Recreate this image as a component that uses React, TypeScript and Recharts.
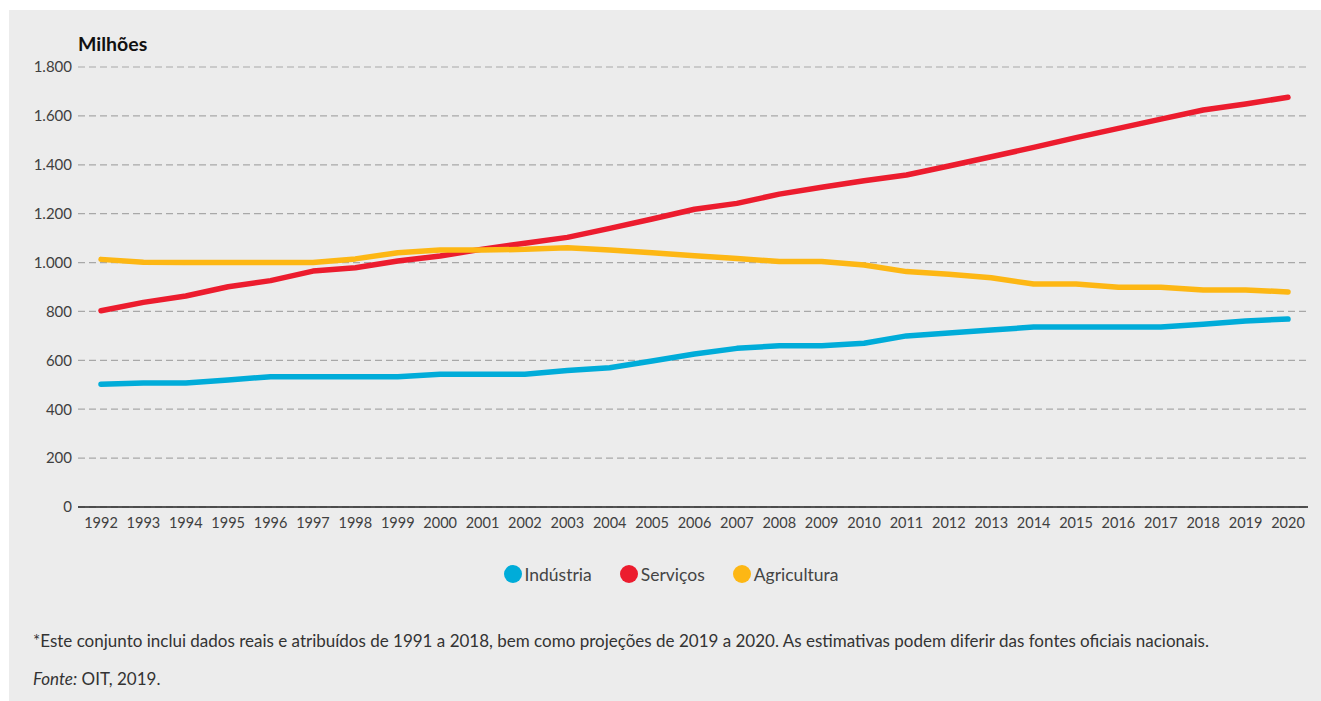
import React from 'react';
import { LineChart, Line, XAxis, YAxis, CartesianGrid, Legend } from 'recharts';

const years = ['1992','1993','1994','1995','1996','1997','1998','1999','2000','2001','2002','2003','2004','2005','2006','2007','2008','2009','2010','2011','2012','2013','2014','2015','2016','2017','2018','2019','2020'];
const industria = [502, 507, 507, 520, 533, 533, 533, 533, 543, 543, 543, 558, 570, 597, 626, 649, 660, 660, 670, 700, 712, 724, 736, 736, 736, 736, 748, 761, 769];
const servicos = [803, 837, 863, 901, 926, 965, 979, 1006, 1027, 1055, 1079, 1103, 1140, 1178, 1218, 1242, 1280, 1308, 1335, 1358, 1395, 1433, 1471, 1511, 1549, 1587, 1624, 1649, 1676];
const agricultura = [1013, 1001, 1000, 1000, 1000, 1000, 1015, 1040, 1051, 1051, 1054, 1061, 1051, 1040, 1028, 1017, 1004, 1004, 990, 963, 952, 938, 912, 912, 899, 899, 888, 888, 880];
const yTicks = [0, 200, 400, 600, 800, 1000, 1200, 1400, 1600, 1800];

const seriesNames = ['Indústria', 'Serviços', 'Agricultura'];
const seriesColors = ['#00acd9', '#ec1c2e', '#fdb714'];

const data = years.map((y, i) => ({
  year: y,
  industria: industria[i],
  servicos: servicos[i],
  agricultura: agricultura[i],
}));

const fmt = (v: number) => v.toLocaleString('de-DE');

const FONT = 'Lato, "Open Sans", sans-serif';

const LegendContent = () => (
  <div style={{ display: 'flex', justifyContent: 'center', alignItems: 'center', height: 24, paddingLeft: 25, fontFamily: FONT }}>
    {seriesNames.map((n, i) => (
      <div key={n} style={{ display: 'flex', alignItems: 'center', marginRight: i < 2 ? 28 : 0 }}>
        <span style={{ display: 'inline-block', width: 18, height: 18, borderRadius: 9, background: seriesColors[i], marginRight: 3 }} />
        <span style={{ fontSize: 17.5, color: '#444' }}>{n}</span>
      </div>
    ))}
  </div>
);

export default function App() {
  return (
    <div style={{ position: 'absolute', left: 9, top: 10, width: 1312, height: 691, background: '#ececec', fontFamily: FONT }}>
      <div style={{ position: 'absolute', left: 69, top: 23, fontSize: 19.5, fontWeight: 700, color: '#111', lineHeight: '22px' }}>Milhões</div>
      <LineChart width={1312} height={586} data={data} margin={{ top: 57, right: 13, bottom: 10, left: 0 }}>
        <CartesianGrid vertical={false} stroke="#a8a8a8" strokeDasharray="7 4" strokeWidth={1.2} />
        <XAxis
          dataKey="year"
          interval={0}
          height={55}
          padding={{ left: 23, right: 20 }}
          tickLine={false}
          tickSize={6}
          tickMargin={5}
          axisLine={{ stroke: '#222', strokeWidth: 1.5 }}
          tick={{ fill: '#404040', fontSize: 14.5, fontFamily: FONT }}
        />
        <YAxis
          width={69}
          domain={[0, 1800]}
          ticks={yTicks}
          tickFormatter={fmt}
          axisLine={false}
          tickLine={false}
          tickSize={4}
          tickMargin={2}
          tick={{ fill: '#404040', fontSize: 15, fontFamily: FONT }}
        />
        <Legend verticalAlign="bottom" content={<LegendContent />} />
        <Line dataKey="industria" name={seriesNames[0]} stroke={seriesColors[0]} strokeWidth={5.5} strokeLinecap="round" strokeLinejoin="round" dot={false} isAnimationActive={false} />
        <Line dataKey="servicos" name={seriesNames[1]} stroke={seriesColors[1]} strokeWidth={5.5} strokeLinecap="round" strokeLinejoin="round" dot={false} isAnimationActive={false} />
        <Line dataKey="agricultura" name={seriesNames[2]} stroke={seriesColors[2]} strokeWidth={5.5} strokeLinecap="round" strokeLinejoin="round" dot={false} isAnimationActive={false} />
      </LineChart>
      <div style={{ position: 'absolute', left: 24, top: 620, fontSize: 17, lineHeight: '22px', color: '#333' }}>
        *Este conjunto inclui dados reais e atribuídos de 1991 a 2018, bem como projeções de 2019 a 2020. As estimativas podem diferir das fontes oficiais nacionais.
      </div>
      <div style={{ position: 'absolute', left: 24, top: 658, fontSize: 17, lineHeight: '22px', color: '#333' }}>
        <i>Fonte:</i> OIT, 2019.
      </div>
    </div>
  );
}
